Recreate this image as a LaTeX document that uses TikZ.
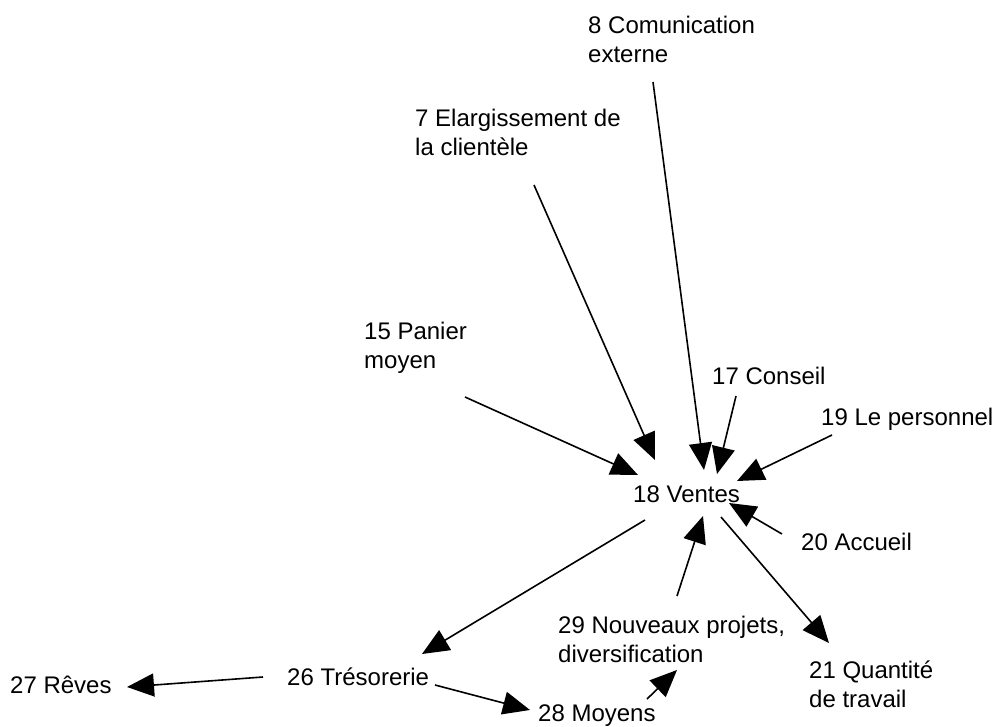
\documentclass[tikz,border=0pt]{standalone}
\usepackage{fontspec}
\setmainfont{Liberation Sans}
\usetikzlibrary{arrows.meta}

% label font and two-line labels whose anchor is the first baseline
\newcommand\lblfont{\fontsize{24}{29.5}\selectfont}
\newcommand\twolines[2]{\begin{tabular}[t]{@{}l@{}}#1\\#2\end{tabular}}

\begin{document}
\begin{tikzpicture}[x=1pt,y=-1pt,
  lbl/.style={inner sep=0pt, anchor=base west, font=\lblfont},
  link/.style={line width=1.6pt, -{Triangle[length=27pt,width=23pt]}}]
\useasboundingbox (0,0) rectangle (996,726);

% factors
\node[lbl] (n8)  at (588,33)  {\twolines{8 Comunication}{externe}};
\node[lbl] (n7)  at (415,126) {\twolines{7 Elargissement de}{la clientèle}};
\node[lbl] (n15) at (364,339) {\twolines{15 Panier}{moyen}};
\node[lbl] (n17) at (712,384) {17 Conseil};
\node[lbl] (n19) at (821,425) {19 Le personnel};
\node[lbl] (n18) at (633,502) {18 Ventes};
\node[lbl] (n20) at (801,550) {20 Accueil};
\node[lbl] (n29) at (558,633) {\twolines{29 Nouveaux projets,}{diversification}};
\node[lbl] (n21) at (809,678) {\twolines{21 Quantité}{de travail}};
\node[lbl] (n26) at (287,685) {26 Trésorerie};
\node[lbl] (n27) at (10,693)  {27 Rêves};
\node[lbl] (n28) at (538,721) {28 Moyens};

% connector ends
\coordinate (n8-out)   at (653,82);
\coordinate (n7-out)   at (534,185);
\coordinate (n15-out)  at (465,397);
\coordinate (n17-out)  at (736,396);
\coordinate (n19-out)  at (832,435);
\coordinate (n20-out)  at (782,534);
\coordinate (n29-out)  at (677,596);
\coordinate (n18-in8)  at (704,470);
\coordinate (n18-in7)  at (655,460);
\coordinate (n18-in15) at (638,475);
\coordinate (n18-in17) at (717,474);
\coordinate (n18-in19) at (737,481);
\coordinate (n18-in20) at (729,503);
\coordinate (n18-in29) at (703,516);
\coordinate (n18-to21) at (721,517);
\coordinate (n18-to26) at (645,520);
\coordinate (n21-in)   at (829,643);
\coordinate (n26-in)   at (422,654);
\coordinate (n26-to27) at (263,677);
\coordinate (n26-to28) at (435,685);
\coordinate (n27-in)   at (127,687);
\coordinate (n28-in)   at (530,710);
\coordinate (n28-out)  at (647,699);
\coordinate (n29-in)   at (677,670);

% influences
\draw[link] (n8-out)   -- (n18-in8);
\draw[link] (n7-out)   -- (n18-in7);
\draw[link] (n15-out)  -- (n18-in15);
\draw[link] (n17-out)  -- (n18-in17);
\draw[link] (n19-out)  -- (n18-in19);
\draw[link] (n20-out)  -- (n18-in20);
\draw[link] (n29-out)  -- (n18-in29);
\draw[link] (n18-to21) -- (n21-in);
\draw[link] (n18-to26) -- (n26-in);
\draw[link] (n26-to27) -- (n27-in);
\draw[link] (n26-to28) -- (n28-in);
\draw[link] (n28-out)  -- (n29-in);
\end{tikzpicture}
\end{document}
